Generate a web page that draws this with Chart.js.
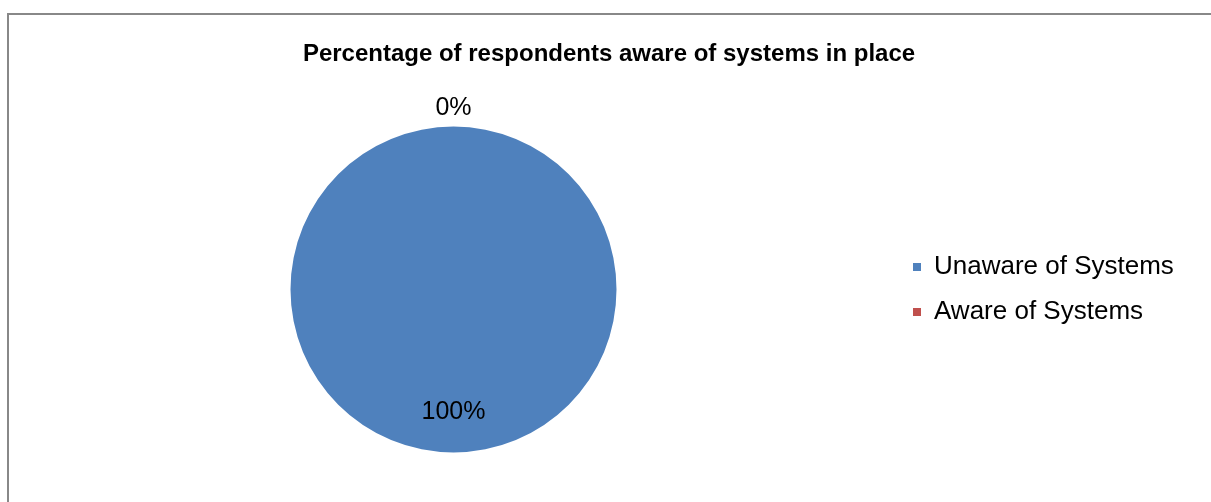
<!DOCTYPE html>
<html>
<head>
<meta charset="utf-8">
<script src="https://cdn.jsdelivr.net/npm/chart.js@4/dist/chart.umd.min.js"></script>
<style>
  body { margin: 0; background: #fff; overflow: hidden; }
  #frame { position: absolute; left: 7px; top: 13px; width: 1300px; height: 600px;
           border-top: 2px solid #888; border-left: 2px solid #888; }
  #wrap { position: absolute; left: 0; top: 0; width: 1211px; height: 502px; }
</style>
</head>
<body>
<div id="frame"></div>
<div id="wrap"><canvas id="awareChart"></canvas></div>
<script>
// Awareness pie

var titleText = 'Percentage of respondents aware of systems in place';
var categories = ['Unaware of Systems', 'Aware of Systems'];
var percentages = [100, 0];
var sliceColors = ['#4F81BD', '#C0504D'];

var fontFamily = '"Liberation Sans", Arial, sans-serif';

// legend keeps a fixed width so the pie sits left of the title centre
var legendWidth = {
  id: 'legendWidth',
  beforeInit: function (chart) {
    var fit = chart.legend.fit;
    chart.legend.fit = function () {
      fit.call(this);
      this.width = 311;
    };
  }
};

// percent labels, inside big slices, just outside tiny ones
var pieLabels = {
  id: 'pieLabels',
  afterDatasetsDraw: function (chart) {
    var ctx = chart.ctx;
    var meta = chart.getDatasetMeta(0);
    var data = chart.data.datasets[0].data;
    var total = data.reduce(function (a, b) { return a + b; }, 0);
    ctx.save();
    ctx.font = '25px ' + fontFamily;
    ctx.fillStyle = '#000';
    ctx.textAlign = 'center';
    ctx.textBaseline = 'middle';
    meta.data.forEach(function (arc, i) {
      var p = arc.getProps(['x', 'y', 'startAngle', 'endAngle', 'outerRadius'], true);
      var mid = (p.startAngle + p.endAngle) / 2;
      var share = data[i] / total;
      var dist = share > 0.1 ? p.outerRadius * 0.75 : p.outerRadius + 18.5;
      ctx.fillText(Math.round(share * 100) + '%',
        p.x + Math.cos(mid) * dist, p.y + Math.sin(mid) * dist);
    });
    ctx.restore();
  }
};

var ctxP = document.getElementById('awareChart').getContext('2d');
var awareChart = new Chart(ctxP, {
  type: 'pie',
  plugins: [legendWidth, pieLabels],
  data: {
    labels: categories,
    datasets: [{
      data: percentages,
      backgroundColor: sliceColors,
      borderWidth: 0,
      offset: 0,
      hoverOffset: 0
    }]
  },
  options: {
    responsive: true,
    maintainAspectRatio: false,
    animation: false,
    layout: {
      padding: { left: 13, right: 6, top: 0, bottom: 49.5 }
    },
    plugins: {
      title: {
        display: true,
        text: titleText,
        color: '#000',
        font: { family: fontFamily, size: 24, weight: 'bold', lineHeight: 1.2 },
        padding: { top: 39.6, bottom: 58.1 }
      },
      legend: {
        position: 'right',
        fullSize: false,
        labels: {
          color: '#000',
          font: { family: fontFamily, size: 26 },
          boxWidth: 8,
          boxHeight: 8,
          padding: 19
        }
      },
      tooltip: { enabled: false }
    }
  }
});
</script>
</body>
</html>
